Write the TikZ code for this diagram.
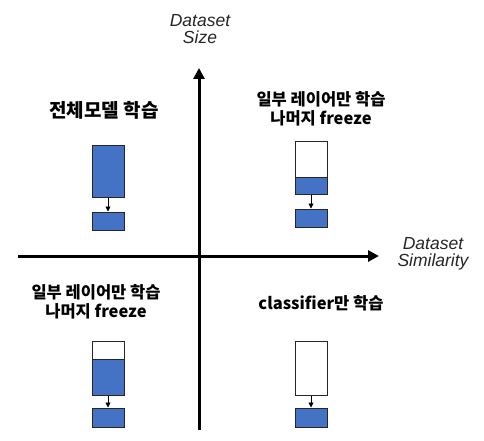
\documentclass[tikz,border=0pt]{standalone}
\usepackage{fontspec}
\setmainfont{Liberation Sans}
\newfontfamily\kr{Noto Sans CJK KR}
\usetikzlibrary{arrows.meta}
\definecolor{boxblue}{HTML}{4472C4}
\definecolor{edge}{HTML}{262626}
\tikzset{
  axis/.style={line width=3pt, -{Triangle[length=11pt,width=11pt]}},
  axlabel/.style={font=\fontsize{17.5}{19.5}\selectfont\itshape, align=center, text=black!85},
  title/.style={font=\fontsize{16.5}{19}\selectfont\kr\bfseries, align=center},
  layer/.style={draw=edge, line width=1pt, minimum width=32pt, inner sep=0pt},
  blue/.style={layer, fill=boxblue},
  empty/.style={layer, fill=white},
  flow/.style={line width=0.8pt, -{Triangle[length=5pt,width=5pt]}}
}
\begin{document}
\begin{tikzpicture}[x=1pt,y=-1pt]
\useasboundingbox (0,0) rectangle (484,441);
% axes
\coordinate (ybot) at (199,430);
\coordinate (ytop) at (199,68);
\coordinate (xl) at (18,256);
\coordinate (xr) at (379,256);
\draw[axis] (ybot) -- (ytop);
\draw[axis] (xl) -- (xr);
\node[axlabel] (ylab) at (200,29) {Dataset\\[-2pt]Size};
\node[axlabel] (xlab) at (433,254) {Dataset\\[-2pt]Similarity};
% top-left
\node[title, font=\fontsize{19}{22}\selectfont\kr\bfseries] (t1) at (104,110) {전체모델 학습};
\node[blue, minimum height=52pt] (b1) at (108,171) {};
\node[blue, minimum height=18pt] (c1) at (108,221) {};
\draw[flow] (b1) -- (c1);
% top-right
\node[title] (t2) at (321,109) {일부 레이어만 학습\\나머지 freeze};
\node[empty, minimum height=36pt] (w2) at (311,159) {};
\node[blue, minimum height=17pt] (b2) at (311,185.5) {};
\node[blue, minimum height=18pt] (c2) at (311,218) {};
\draw[flow] (b2) -- (c2);
% bottom-left
\node[title] (t3) at (96,302) {일부 레이어만 학습\\나머지 freeze};
\node[empty, minimum height=18pt] (w3) at (108,350) {};
\node[blue, minimum height=36pt] (b3) at (108,377) {};
\node[blue, minimum height=19pt] (c3) at (108,417.5) {};
\draw[flow] (b3) -- (c3);
% bottom-right
\node[title] (t4) at (321,303) {classifier만 학습};
\node[empty, minimum height=54pt] (w4) at (311,368) {};
\node[blue, minimum height=19pt] (c4) at (311,417.5) {};
\draw[flow] (w4) -- (c4);
\end{tikzpicture}
\end{document}
